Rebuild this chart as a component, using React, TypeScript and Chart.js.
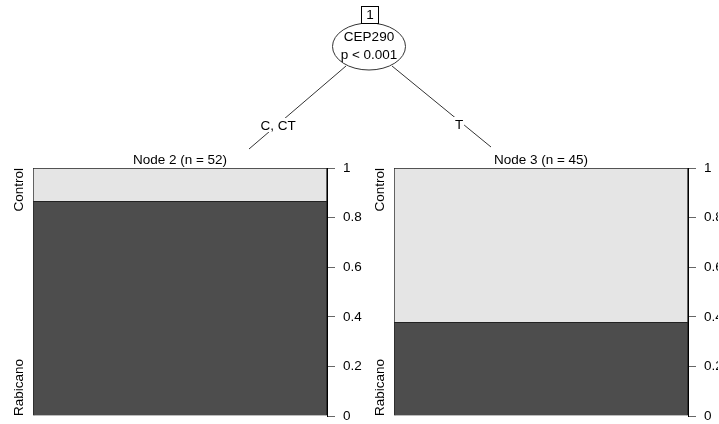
import React, { useEffect, useRef } from "react";
import { Chart, registerables } from "chart.js";

Chart.register(...registerables);

const nodeLabels = ["Node 2", "Node 3"];
const nodeN = [52, 45];
const classes = ["Rabicano", "Control"];
const rabicanoCounts = [45, 17];
const controlCounts = [7, 28];
const yTicks = [0, 0.2, 0.4, 0.6, 0.8, 1];
const splitVariable = "CEP290";
const splitP = "p < 0.001";
const edgeLabels = ["C, CT", "T"];
const rootId = "1";

const FONT = "'Liberation Sans', Arial, Helvetica, sans-serif";
const W = 719;
const H = 424;
const DARK = "#4d4d4d";
const LIGHT = "#e5e5e5";

const classLabelPlugin = {
  id: "classLabels",
  afterDraw(chart: any) {
    const { ctx, chartArea } = chart;
    const x = chartArea.left - 14;
    ctx.save();
    ctx.fillStyle = "#000";
    ctx.font = `13.5px ${FONT}`;
    ctx.textBaseline = "middle";
    ctx.save();
    ctx.translate(x, chartArea.top);
    ctx.rotate(-Math.PI / 2);
    ctx.textAlign = "right";
    ctx.fillText(classes[1], 0, 0);
    ctx.restore();
    ctx.save();
    ctx.translate(x, chartArea.bottom);
    ctx.rotate(-Math.PI / 2);
    ctx.textAlign = "left";
    ctx.fillText(classes[0], 0, 0);
    ctx.restore();
    ctx.restore();
  },
};

const treePlugin = {
  id: "tree",
  afterDraw(chart: any) {
    const { ctx } = chart;
    ctx.save();
    const cx = 369;
    const cy = 46.5;
    ctx.strokeStyle = "#333";
    ctx.lineWidth = 1;
    const edges = [
      { x1: 346, y1: 66, x2: 249, y2: 149, lx: 278, ly: 125, label: edgeLabels[0] },
      { x1: 392, y1: 66, x2: 491, y2: 147, lx: 459, ly: 124, label: edgeLabels[1] },
    ];
    edges.forEach((e) => {
      ctx.beginPath();
      ctx.moveTo(e.x1, e.y1);
      ctx.lineTo(e.x2, e.y2);
      ctx.stroke();
    });
    ctx.font = `13.5px ${FONT}`;
    ctx.textAlign = "center";
    ctx.textBaseline = "middle";
    edges.forEach((e) => {
      const w = ctx.measureText(e.label).width;
      ctx.fillStyle = "#fff";
      ctx.fillRect(e.lx - w / 2 - 1, e.ly - 7, w + 2, 14);
      ctx.fillStyle = "#000";
      ctx.fillText(e.label, e.lx, e.ly + 1);
    });
    ctx.beginPath();
    ctx.ellipse(cx, cy, 36.5, 23.5, 0, 0, Math.PI * 2);
    ctx.fillStyle = "#fff";
    ctx.fill();
    ctx.strokeStyle = "#333";
    ctx.stroke();
    ctx.fillStyle = "#000";
    ctx.fillText(splitVariable, cx, 37.5);
    ctx.fillText(splitP, cx, 55);
    ctx.fillStyle = "#fff";
    ctx.fillRect(361.5, 6.5, 17, 17);
    ctx.strokeStyle = "#000";
    ctx.strokeRect(361.5, 6.5, 17, 17);
    ctx.fillStyle = "#000";
    ctx.fillText(rootId, 370, 15.5);
    ctx.restore();
  },
};

function makeConfig(i: number, padLeft: number, padRight: number, axisW: number, withTree: boolean) {
  const n = nodeN[i];
  return {
    type: "bar" as const,
    data: {
      labels: [nodeLabels[i]],
      datasets: [
        {
          label: classes[0],
          data: [rabicanoCounts[i] / n],
          backgroundColor: DARK,
          borderColor: "#222",
          borderWidth: 1,
          barPercentage: 1,
          categoryPercentage: 1,
        },
        {
          label: classes[1],
          data: [controlCounts[i] / n],
          backgroundColor: LIGHT,
          borderColor: "#222",
          borderWidth: 1,
          barPercentage: 1,
          categoryPercentage: 1,
        },
      ],
    },
    options: {
      responsive: false,
      animation: false,
      layout: { padding: { left: padLeft, right: padRight, top: 168 - 16.2, bottom: 8 } },
      plugins: {
        legend: { display: false },
        tooltip: { enabled: false },
        title: {
          display: true,
          text: `${nodeLabels[i]} (n = ${n})`,
          fullSize: false,
          color: "#000",
          font: { family: FONT, size: 13.5, weight: "normal", lineHeight: 1.2 },
          padding: { top: 0, bottom: 0 },
        },
      },
      scales: {
        x: { display: false, stacked: true },
        y: {
          position: "right",
          stacked: true,
          min: 0,
          max: 1,
          afterFit: (s: any) => {
            s.width = axisW;
            s.paddingTop = 0;
            s.paddingBottom = 0;
          },
          afterBuildTicks: (s: any) => {
            s.ticks = yTicks.map((v) => ({ value: v }));
          },
          border: { display: true, color: "#000", width: 1 },
          grid: { drawOnChartArea: false, drawTicks: true, tickLength: 8, color: "#666" },
          ticks: {
            padding: 8,
            color: "#000",
            font: { family: FONT, size: 13.5 },
            callback: (v: any) => String(Math.round(Number(v) * 10) / 10),
          },
        },
      },
    },
    plugins: withTree ? [classLabelPlugin, treePlugin] : [classLabelPlugin],
  };
}

export default function App() {
  const ref1 = useRef<HTMLCanvasElement>(null);
  const ref2 = useRef<HTMLCanvasElement>(null);
  useEffect(() => {
    const c1 = new Chart(ref1.current as any, makeConfig(0, 33, W - 327 - 45, 45, true) as any);
    const c2 = new Chart(ref2.current as any, makeConfig(1, 394, 1, 30, false) as any);
    return () => {
      c1.destroy();
      c2.destroy();
    };
  }, []);
  const cs: React.CSSProperties = { position: "absolute", left: 0, top: 0 };
  return (
    <div style={{ position: "absolute", left: 0, top: 0, width: W, height: H, background: "#fff", overflow: "hidden" }}>
      <canvas ref={ref1} width={W} height={H} style={cs} />
      <canvas ref={ref2} width={W} height={H} style={cs} />
    </div>
  );
}
